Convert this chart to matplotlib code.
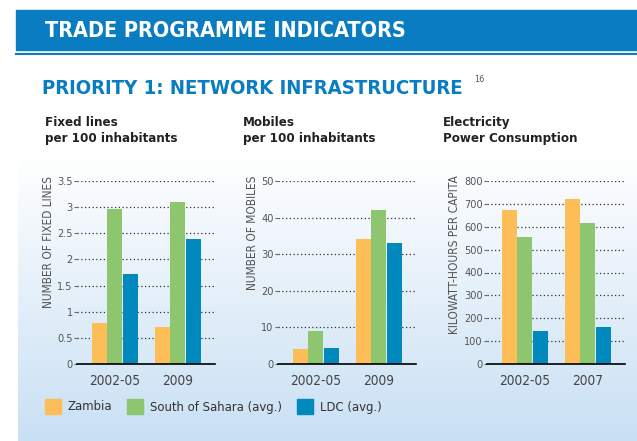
import numpy as np
import matplotlib.pyplot as plt
from matplotlib.patches import Rectangle

# Data
zambia_fixed = [0.79, 0.70]
sahara_fixed = [2.96, 3.10]
ldc_fixed = [1.72, 2.39]
fixed_periods = ['2002-05', '2009']

zambia_mobile = [4.0, 34.2]
sahara_mobile = [8.9, 42.0]
ldc_mobile = [4.3, 33.1]
mobile_periods = ['2002-05', '2009']

zambia_elec = [673, 722]
sahara_elec = [556, 617]
ldc_elec = [143, 163]
elec_periods = ['2002-05', '2007']

series_names = ['Zambia', 'South of Sahara (avg.)', 'LDC (avg.)']
colors = ['#fdbe57', '#8dc66f', '#0089bc']
blue = '#0a7cc2'

plt.rcParams['font.family'] = ['DejaVu Sans']
plt.rcParams['font.stretch'] = 'condensed'

W, H = 637, 441
fig = plt.figure(figsize=(W / 100, H / 100), dpi=100)


def fx(px):
    return px / W


def fy(py):
    return 1 - py / H


# gradient panel
bg = fig.add_axes([fx(18), 0, 1 - fx(18), fy(155)], zorder=-10)
grad = np.linspace(0, 1, 256).reshape(-1, 1)
top = np.array([1.0, 1.0, 1.0])
bot = np.array([0xc9, 0xe0, 0xf4]) / 255
img = top + (bot - top) * grad[..., None]
bg.imshow(img, aspect='auto', extent=[0, 1, 0, 1], origin='upper')
bg.axis('off')

# header band
fig.patches.append(Rectangle((fx(16), fy(50)), 1 - fx(16), fy(10) - fy(50),
                             transform=fig.transFigure, color=blue, zorder=1))
fig.lines.append(plt.Line2D([fx(16), 1], [fy(54), fy(54)], transform=fig.transFigure,
                            color=blue, lw=1.5))
fig.text(fx(45), fy(31), 'TRADE PROGRAMME INDICATORS', color='white', fontsize=15.5,
         fontweight='bold', va='center', ha='left', zorder=2)
fig.text(fx(42), fy(88), 'PRIORITY 1: NETWORK INFRASTRUCTURE', color=blue,
         fontsize=14.6, fontweight='bold', va='center', ha='left')
fig.text(fx(474), fy(80), '16', color='#555555', fontsize=6.5, va='center', ha='left')

panels = [
    ('Fixed lines\nper 100 inhabitants', 'NUMBER OF FIXED LINES', 77,
     [zambia_fixed, sahara_fixed, ldc_fixed], fixed_periods, 3.5, np.arange(0, 3.6, 0.5),
     ['0', '0.5', '1', '1.5', '2', '2.5', '3', '3.5'], 45),
    ('Mobiles\nper 100 inhabitants', 'NUMBER OF MOBILES', 278,
     [zambia_mobile, sahara_mobile, ldc_mobile], mobile_periods, 50, np.arange(0, 51, 10),
     None, 243),
    ('Electricity\nPower Consumption', 'KILOWATT-HOURS PER CAPITA', 487,
     [zambia_elec, sahara_elec, ldc_elec], elec_periods, 800, np.arange(0, 801, 100),
     None, 443),
]

bw = 0.238
for title, ylabel, left, data, periods, ymax, ticks, ticklabels, tx in panels:
    ax = fig.add_axes([fx(left), fy(364), fx(138), fy(181) - fy(364)])
    ax.set_facecolor('none')
    x = np.arange(len(periods))
    for i, vals in enumerate(data):
        ax.bar(x + (i - 1) * (bw + 0.012), vals, width=bw, color=colors[i], zorder=3)
    ax.set_xlim(-0.6, 1.59)
    ax.set_ylim(0, ymax)
    ax.set_yticks(ticks)
    if ticklabels:
        ax.set_yticklabels(ticklabels)
    ax.set_xticks(x)
    ax.set_xticklabels(periods)
    ax.grid(axis='y', color='#333333', linestyle=(0, (1, 2)), lw=0.9, zorder=0)
    for s in ['top', 'right', 'left']:
        ax.spines[s].set_visible(False)
    ax.spines['bottom'].set_color('black')
    ax.spines['bottom'].set_linewidth(1.2)
    ax.spines['bottom'].set_zorder(5)
    ax.tick_params(axis='y', length=2, width=0.8, color='#666666', labelcolor='#555555',
                   labelsize=7.8, pad=1)
    ax.tick_params(axis='x', length=0, labelcolor='#444444', labelsize=9.8, pad=7)
    ax.set_ylabel(ylabel, color='#555555', fontsize=8.6, labelpad=2, loc='top')
    ax.yaxis.label.set_y(1.03)
    fig.text(fx(tx), fy(116), title, color='#222222', fontsize=9.5, fontweight='bold',
             va='top', ha='left', linespacing=1.3)

# legend
lx = [45, 127, 297]
for i, name in enumerate(series_names):
    fig.patches.append(Rectangle((fx(lx[i]), fy(414)), fx(16), fy(399) - fy(414),
                                 transform=fig.transFigure, color=colors[i]))
    fig.text(fx(lx[i] + 23), fy(407), name, color='#333333', fontsize=9.4,
             va='center', ha='left')

fig.savefig('out.png', dpi=100)
